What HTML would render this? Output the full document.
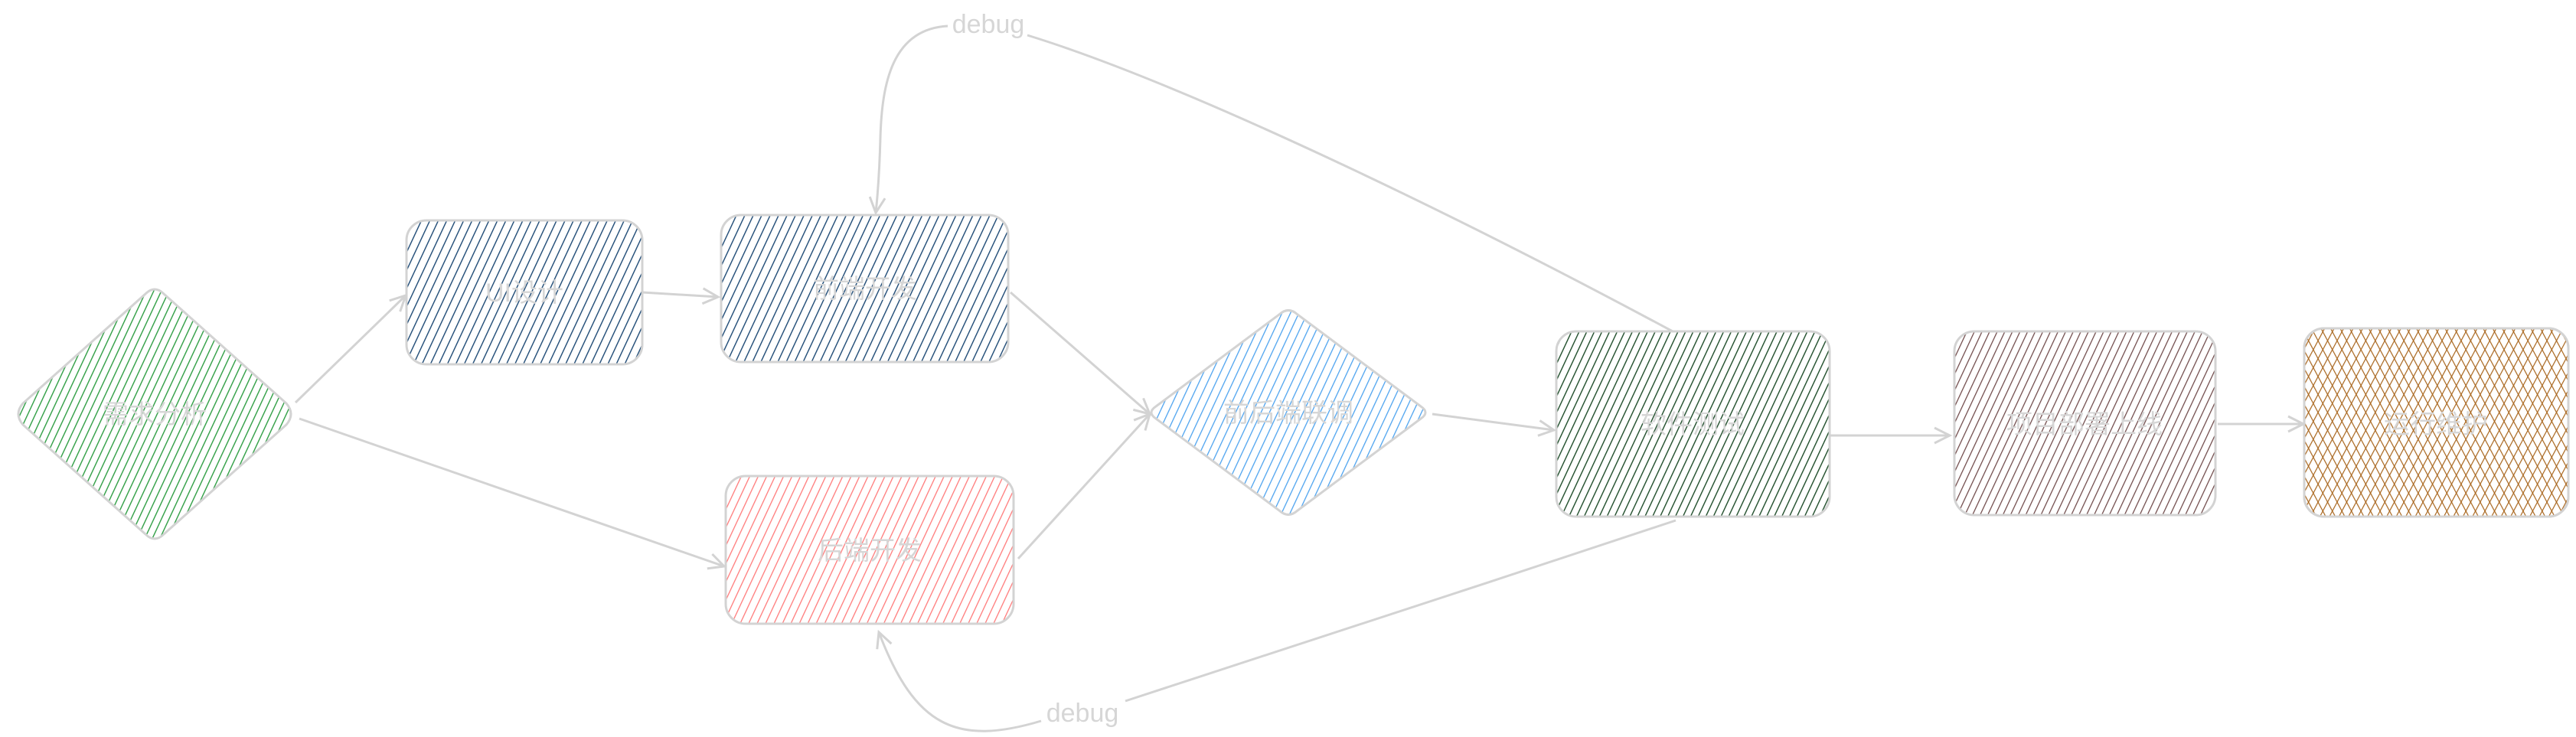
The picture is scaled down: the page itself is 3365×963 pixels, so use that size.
<!DOCTYPE html>
<html><head><meta charset="utf-8"><style>
html,body{margin:0;padding:0;background:#fff;width:3365px;height:963px;overflow:hidden}
svg text{font-family:"Liberation Sans","Noto Sans CJK SC",sans-serif;fill:#d6d6d6}
</style></head><body>
<svg width="3365" height="963" viewBox="0 0 3365 963" xmlns="http://www.w3.org/2000/svg">
<defs>
<pattern id="pg" width="9" height="10" patternUnits="userSpaceOnUse" patternTransform="rotate(25)"><line x1="0" y1="0" x2="0" y2="10" stroke="#2f9e44" stroke-width="2.8"/></pattern>
<pattern id="pn" width="10" height="10" patternUnits="userSpaceOnUse" patternTransform="rotate(25)"><line x1="0" y1="0" x2="0" y2="10" stroke="#1e4a75" stroke-width="2.8"/></pattern>
<pattern id="pr" width="10" height="10" patternUnits="userSpaceOnUse" patternTransform="rotate(25)"><line x1="0" y1="0" x2="0" y2="10" stroke="#ff7a7a" stroke-width="2.6"/></pattern>
<pattern id="pb" width="10" height="10" patternUnits="userSpaceOnUse" patternTransform="rotate(25)"><line x1="0" y1="0" x2="0" y2="10" stroke="#4da3ef" stroke-width="2.6"/></pattern>
<pattern id="pd" width="9" height="10" patternUnits="userSpaceOnUse" patternTransform="rotate(25)"><line x1="0" y1="0" x2="0" y2="10" stroke="#1f4d2a" stroke-width="2.8"/></pattern>
<pattern id="pm" width="9" height="10" patternUnits="userSpaceOnUse" patternTransform="rotate(25)"><line x1="0" y1="0" x2="0" y2="10" stroke="#6e4848" stroke-width="2.5"/></pattern>
<pattern id="po" width="11" height="12" patternUnits="userSpaceOnUse" patternTransform="rotate(28)"><line x1="0" y1="0" x2="0" y2="12" stroke="#a8651c" stroke-width="2.4"/></pattern>
<pattern id="po2" width="11" height="12" patternUnits="userSpaceOnUse" patternTransform="rotate(-28)"><line x1="0" y1="0" x2="0" y2="12" stroke="#a8651c" stroke-width="2.4"/></pattern>
<marker id="ar" markerWidth="30" markerHeight="30" refX="22" refY="12" orient="auto" markerUnits="userSpaceOnUse"><path d="M2,2 L22,12 L2,22" fill="none" stroke="#d3d3d3" stroke-width="3"/></marker>
</defs>
<g stroke="#d3d3d3" stroke-width="3" fill="none">
<path d="M190,384 Q202,372 214,384 L374,527 Q386,541 374,555 L214,698 Q202,710 190,698 L30,555 Q18,541 30,527 Z" fill="url(#pg)"/>
<rect x="531" y="288" width="308" height="188" rx="26" fill="url(#pn)"/>
<rect x="942" y="281" width="375" height="192" rx="26" fill="url(#pn)"/>
<rect x="948" y="622" width="376" height="193" rx="26" fill="url(#pr)"/>
<path d="M1671,411 Q1683,400 1695,411 L1856,531 Q1868,539 1856,547 L1695,667 Q1683,678 1671,667 L1510,547 Q1498,539 1510,531 Z" fill="url(#pb)"/>
<rect x="2033" y="433" width="357" height="242" rx="26" fill="url(#pd)"/>
<rect x="2553" y="433" width="341" height="240" rx="26" fill="url(#pm)"/>
<rect x="3010" y="429" width="345" height="246" rx="26" fill="url(#po)"/>
<rect x="3010" y="429" width="345" height="246" rx="26" fill="url(#po2)"/>
<path d="M386,526 L530,386" marker-end="url(#ar)"/>
<path d="M391,547 L946,740" marker-end="url(#ar)"/>
<path d="M839,382 L938,388" marker-end="url(#ar)"/>
<path d="M1320,382 L1502,541" marker-end="url(#ar)"/>
<path d="M1330,730 L1502,541" marker-end="url(#ar)"/>
<path d="M1871,541 L2030,562" marker-end="url(#ar)"/>
<path d="M2390,569 L2547,569" marker-end="url(#ar)"/>
<path d="M2897,554 L3009,554" marker-end="url(#ar)"/>
<path d="M2185,433 C1900,280 1550,110 1342,46"/>
<path d="M1238,34 C1165,38 1152,110 1150,180 C1149,220 1147,250 1144,278" marker-end="url(#ar)"/>
<path d="M2189,680 C1950,760 1700,840 1470,916"/>
<path d="M1360,942 C1250,975 1195,950 1148,826" marker-end="url(#ar)"/>
</g>
<g font-size="34" text-anchor="middle">
<text x="202" y="553">需求分析</text>
<text x="685" y="394">UI设计</text>
<text x="1130" y="389">前端开发</text>
<text x="1136" y="731">后端开发</text>
<text x="1683" y="551">前后端联调</text>
<text x="2211" y="566">软件测试</text>
<text x="2723" y="566">项目部署上线</text>
<text x="3182" y="566">运行维护</text>
<text x="1291" y="43" font-size="34">debug</text>
<text x="1414" y="943" font-size="34">debug</text>
</g>
</svg>
</body></html>
